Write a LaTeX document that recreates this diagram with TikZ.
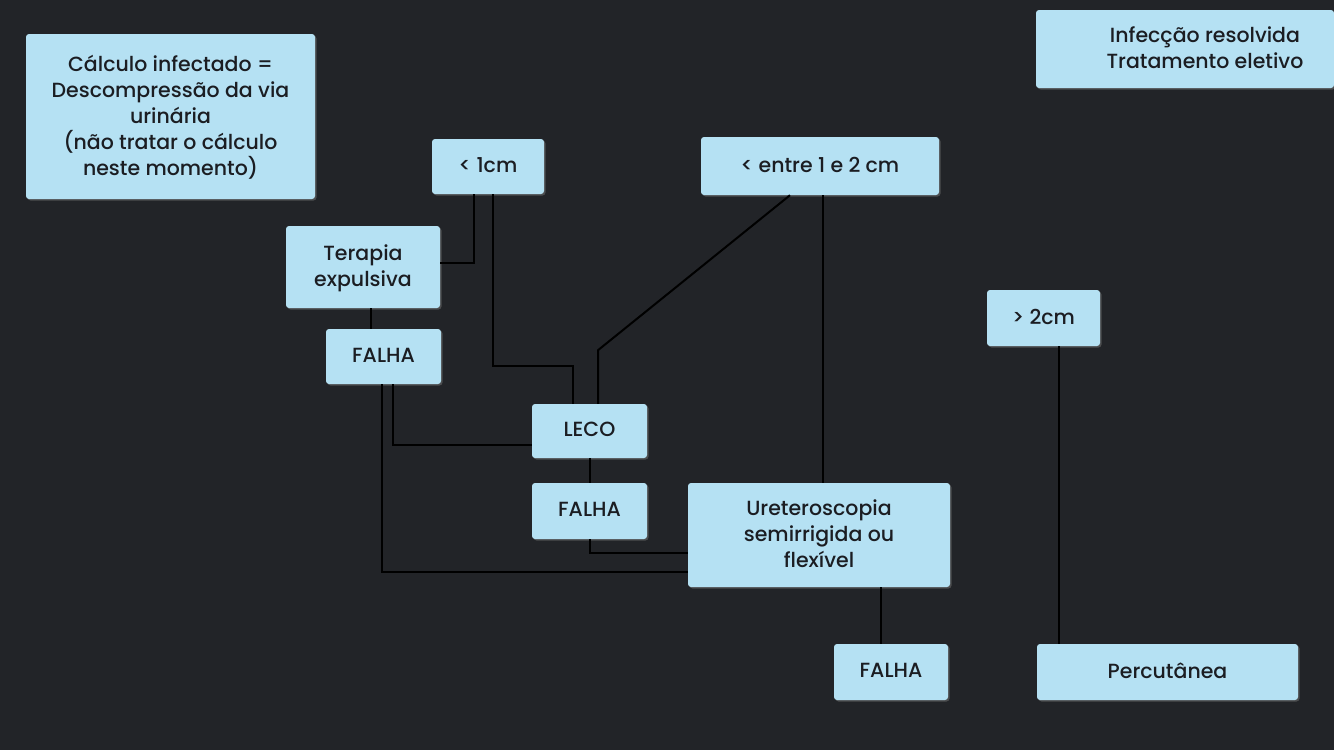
\documentclass[tikz,border=0pt]{standalone}
\usepackage{fontspec}
\setmainfont{Poppins}[UprightFont={* Medium}]
\usetikzlibrary{shadows}
\definecolor{fundo}{HTML}{222428}
\definecolor{caixa}{HTML}{B5E1F3}
\definecolor{texto}{HTML}{1B1D22}
\tikzset{
  caixabox/.style={fill=caixa, rounded corners=3pt, inner sep=0pt, align=center, text=texto,
    font=\fontsize{20.5}{26}\selectfont, text depth=3pt,
    drop shadow={shadow xshift=1.5pt, shadow yshift=-1.5pt, opacity=0.45}},
  liga/.style={draw=black, line width=2pt}
}
\begin{document}
\begin{tikzpicture}[x=1pt, y=-1pt]
                \fill[fundo] (0,0) rectangle (1334,750);
                % caixas de texto soltas
                \node[caixabox, minimum width=289pt, minimum height=165pt] (infectado) at (170.5,116.5)
                  {C\'alculo infectado =\\Descompress\~ao da via\\urin\'aria\\(n\~ao tratar o c\'alculo\\neste momento)};
                \node[caixabox, minimum width=298pt, minimum height=78pt] (resolvida) at (1185,49)
                  {\hspace*{40pt}Infec\c{c}\~ao resolvida\\\hspace*{40pt}Tratamento eletivo};
                % tamanhos
                \node[caixabox, minimum width=112pt, minimum height=55pt] (menor1) at (488,166.5) {< 1cm};
                \node[caixabox, minimum width=238pt, minimum height=58pt] (entre) at (820,166) {< entre 1 e 2 cm};
                \node[caixabox, minimum width=113pt, minimum height=56pt] (maior2) at (1043.5,318) {> 2cm};
                % tratamentos
                \node[caixabox, minimum width=154pt, minimum height=82pt] (terapia) at (363,267) {Terapia\\expulsiva};
                \node[caixabox, minimum width=115pt, minimum height=55pt] (falhaA) at (383.5,356.5) {FALHA};
                \node[caixabox, minimum width=115pt, minimum height=54pt] (leco) at (589.5,431) {LECO};
                \node[caixabox, minimum width=115pt, minimum height=56pt] (falhaB) at (589.5,511) {FALHA};
                \node[caixabox, minimum width=262pt, minimum height=104pt] (uretero) at (819,535)
                  {Ureteroscopia\\semirrigida ou\\flex\'ivel};
                \node[caixabox, minimum width=114pt, minimum height=56pt] (falhaC) at (891,672) {FALHA};
                \node[caixabox, minimum width=261pt, minimum height=56pt] (percut) at (1167.5,672) {Percut\^anea};
                % ligacoes
                \draw[liga] ([xshift=-14pt]menor1.south) |- ([yshift=4pt]terapia.east);
                \draw[liga] ([xshift=5pt]menor1.south) -- ++(0,172) -| ([xshift=-16.5pt]leco.north);
                \draw[liga] ([xshift=-30pt]entre.south) -- ++(-192,155) -- ([xshift=8.5pt]leco.north);
                \draw[liga] ([xshift=3pt]entre.south) -- ([xshift=4pt]uretero.north);
                \draw[liga] ([xshift=8pt]terapia.south) -- ([xshift=-12.5pt]falhaA.north);
                \draw[liga] ([xshift=9.5pt]falhaA.south) |- ([yshift=-14pt]leco.west);
                \draw[liga] ([xshift=-1.5pt]falhaA.south) |- ([yshift=-37pt]uretero.west);
                \draw[liga] (leco.south) -- (falhaB.north);
                \draw[liga] (falhaB.south) |- ([yshift=-18pt]uretero.west);
                \draw[liga] ([xshift=62pt]uretero.south) -- ([xshift=-10pt]falhaC.north);
                \draw[liga] ([xshift=15.5pt]maior2.south) -- ([xshift=-108.5pt]percut.north);
            \end{tikzpicture}
\end{document}
